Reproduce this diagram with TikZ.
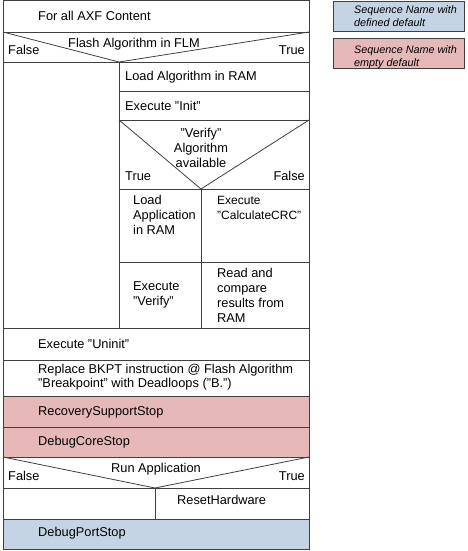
\documentclass[tikz,border=0pt]{standalone}
\usepackage{fontspec}
\setmainfont{Liberation Sans}
\usetikzlibrary{positioning}
\definecolor{defblue}{HTML}{C5D4E4}
\definecolor{emptyred}{HTML}{E6B9B8}
\definecolor{frame}{HTML}{404040}

\begin{document}
\begin{tikzpicture}[x=1pt,y=-1pt]
        \tikzset{
            lbl/.style= {
                anchor=west,
                inner sep=0pt,
                align=left,
                font=\fontsize{12.8}{15}\selectfont
            },
            cond/.style= {
                lbl,
                anchor=center,
                align=center
            },
            legtext/.style= {
                lbl,
                font=\fontsize{10.8}{13}\selectfont\itshape
            },
            box/.style= {
                draw=frame,
                line width=0.8pt
            },
        }
\useasboundingbox (0,0) rectangle (467,551);
%% coloured rows
\fill[emptyred] (3,396) rectangle (309,457);
\fill[defblue] (3,519) rectangle (309,549);
%% frame
\draw[box] (3,0.5) rectangle (309,549);
\foreach \y in {32,62,328,360,396,427,457,488,519}
    \draw[box] (3,\y) -- (309,\y);
\draw[box] (3,32) -- (119,62) -- (309,32);
\draw[box] (119,62) -- (119,328);
\foreach \y in {91,120,189,262}
    \draw[box] (119,\y) -- (309,\y);
\draw[box] (119,120) -- (201,189) -- (309,120);
\draw[box] (201,189) -- (201,328);
\draw[box] (3,457) -- (155,488) -- (309,457);
\draw[box] (155,488) -- (155,519);
%% legend
\draw[box,fill=defblue] (333,1) rectangle (464,31);
\draw[box,fill=emptyred] (333,38) rectangle (464,68);
        \node [legtext] (legdef) at (354,16)
            {Sequence Name with\\defined default};
        \node [legtext] (legempty) at (354,57)
            {Sequence Name with\\empty default};
%% texts
        \node [lbl] (forall) at (38,16) {For all AXF Content};
        \node [cond] (flm) at (134,44) {Flash Algorithm in FLM};
        \node [lbl] (flmfalse) at (8,50) {False};
        \node [lbl,anchor=east] (flmtrue) at (305,50) {True};
        \node [lbl] (loadalg) at (125,77) {Load Algorithm in RAM};
        \node [lbl] (init) at (125,106) {Execute "Init"};
        \node [cond] (verifyq) at (201,148)
            {"Verify"\\Algorithm\\available};
        \node [lbl] (vtrue) at (125,176) {True};
        \node [lbl,anchor=east] (vfalse) at (305,176) {False};
        \node [lbl] (loadapp) at (133,215)
            {Load\\Application\\in RAM};
        \node [lbl,font=\fontsize{12}{15}\selectfont] (crc) at (217,207.5)
            {Execute\\"CalculateCRC"};
        \node [lbl] (verify) at (133,294.5)
            {Execute\\"Verify"};
        \node [lbl] (readcmp) at (217,295)
            {Read and\\compare\\results from\\RAM};
        \node [lbl] (uninit) at (38,344) {Execute "Uninit"};
        \node [lbl,font=\fontsize{12.8}{14}\selectfont] (bkpt) at (38,377.5)
            {Replace BKPT instruction @ Flash Algorithm\\"Breakpoint" with Deadloops ("B.")};
        \node [lbl] (recstop) at (38,412) {RecoverySupportStop};
        \node [lbl] (corestop) at (38,442) {DebugCoreStop};
        \node [cond] (runapp) at (156,469) {Run Application};
        \node [lbl] (runfalse) at (8,476) {False};
        \node [lbl,anchor=east] (runtrue) at (305,476) {True};
        \node [lbl] (reset) at (177,500) {ResetHardware};
        \node [lbl] (portstop) at (38,533) {DebugPortStop};
\end{tikzpicture}
\end{document}
